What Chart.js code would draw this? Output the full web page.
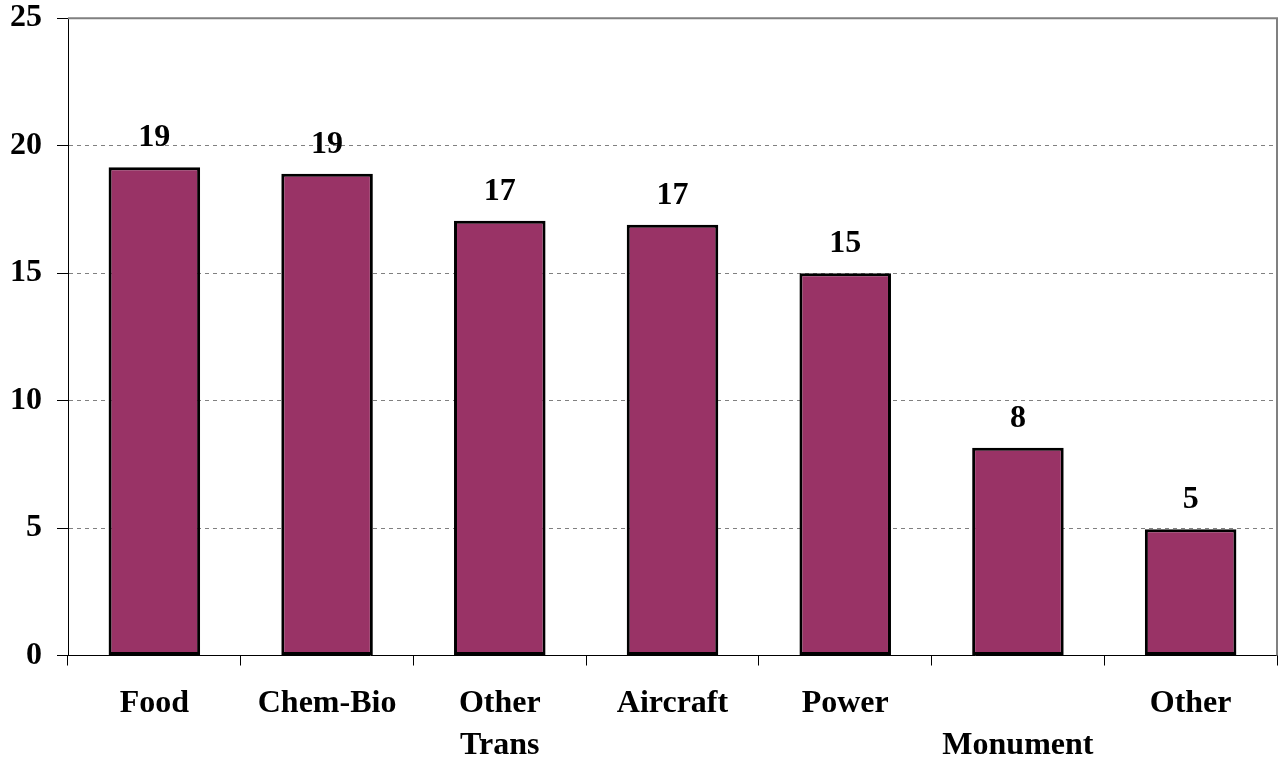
<!DOCTYPE html>
<html>
<head>
<meta charset="utf-8">
<script src="https://cdn.jsdelivr.net/npm/chart.js@4/dist/chart.umd.min.js"></script>
<style>
  html, body { margin: 0; padding: 0; background: #fff; overflow: hidden; }
  #wrap { width: 1279px; height: 774px; margin-top: -16px; }
</style>
</head>
<body>
<div id="wrap"><canvas id="bars"></canvas></div>
<script>
const categories = ["Food", "Chem-Bio", ["Other", "Trans"], "Aircraft", "Power", ["", "Monument"], "Other"];
const counts = [19.15, 18.9, 17.05, 16.9, 15.0, 8.15, 4.95];
const yTicks = [0, 5, 10, 15, 20, 25];

const serif = "'Liberation Serif', 'Times New Roman', serif";

// value labels above each bar + grey top/right frame
const barLabels = {
  id: "barLabels",
  afterDatasetsDraw(chart) {
    const ctx = chart.ctx;
    const meta = chart.getDatasetMeta(0);
    ctx.save();
    ctx.font = "bold 32px " + serif;
    ctx.fillStyle = "#000";
    ctx.textAlign = "center";
    ctx.textBaseline = "alphabetic";
    meta.data.forEach((bar, i) => {
      ctx.fillText(Math.round(counts[i]), bar.x, bar.y - 21);
    });
    const a = chart.chartArea;
    ctx.strokeStyle = "#808080";
    ctx.lineWidth = 2;
    ctx.beginPath();
    ctx.moveTo(a.left, a.top);
    ctx.lineTo(a.right, a.top);
    ctx.lineTo(a.right, a.bottom);
    ctx.stroke();
    ctx.restore();
  },
};

new Chart(document.getElementById("bars"), {
  type: "bar",
  data: {
    labels: categories,
    datasets: [
      {
        data: counts,
        backgroundColor: "#993366",
        borderColor: "#000",
        borderWidth: 3,
        borderSkipped: false,
        barPercentage: 0.53,
        categoryPercentage: 1,
      },
    ],
  },
  options: {
    responsive: true,
    maintainAspectRatio: false,
    animation: false,
    layout: { padding: { left: -5, right: 2, top: 0, bottom: -26 } },
    scales: {
      x: {
        grid: {
          drawOnChartArea: false,
          tickLength: 10,
          tickColor: "#000",
        },
        border: { color: "#000", width: 1 },
        ticks: {
          color: "#000",
          padding: 17,
          maxRotation: 0,
          autoSkip: false,
          font: { family: serif, size: 32, weight: "bold", lineHeight: 1.32 },
        },
      },
      y: {
        min: 0,
        max: 25,
        afterBuildTicks: (axis) => {
          axis.ticks = yTicks.map((v) => ({ value: v }));
        },
        grid: {
          color: (c) => (c.tick && c.tick.value === 25 ? "rgba(0,0,0,0)" : "#808080"),
          tickLength: 11,
          tickColor: "#000",
        },
        border: {
          color: "#000",
          width: 1,
          dash: [4, 4],
        },
        ticks: {
          color: "#000",
          padding: 15,
          font: { family: serif, size: 32, weight: "bold" },
        },
      },
    },
    plugins: {
      legend: { display: false },
      tooltip: { enabled: false },
    },
  },
  plugins: [barLabels],
});
</script>
</body>
</html>
